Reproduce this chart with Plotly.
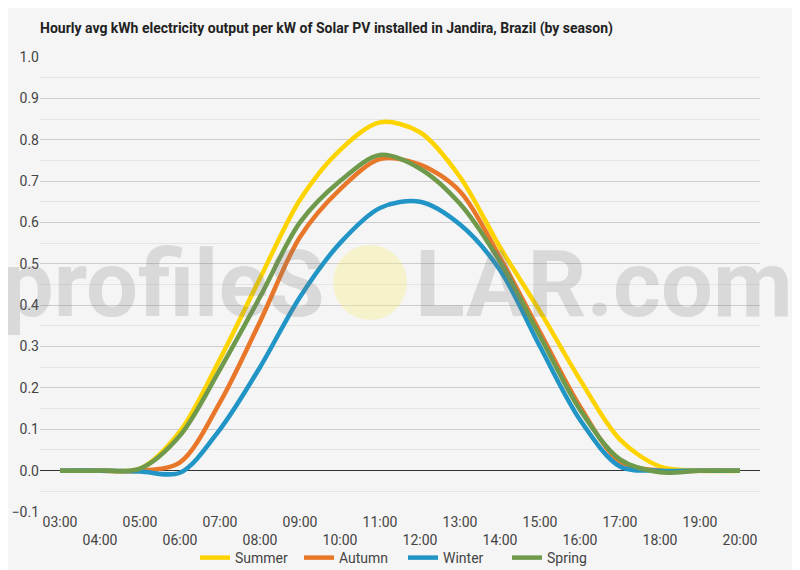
import plotly.graph_objects as go

hours = ["03:00", "04:00", "05:00", "06:00", "07:00", "08:00", "09:00", "10:00", "11:00",
         "12:00", "13:00", "14:00", "15:00", "16:00", "17:00", "18:00", "19:00", "20:00"]

summer = [0, 0, 0.005, 0.095, 0.27, 0.465, 0.655, 0.775, 0.842, 0.818, 0.71, 0.54,
          0.385, 0.22, 0.075, 0.01, 0, 0]
autumn = [0, 0, 0, 0.02, 0.165, 0.36, 0.565, 0.68, 0.753, 0.74, 0.675, 0.515,
          0.335, 0.155, 0.022, 0, 0, 0]
winter = [0, 0, -0.002, -0.005, 0.10, 0.25, 0.42, 0.55, 0.635, 0.65, 0.595, 0.485,
          0.30, 0.123, 0.01, 0, 0, 0]
spring = [0, 0, 0.005, 0.085, 0.245, 0.42, 0.60, 0.70, 0.763, 0.73, 0.645, 0.505,
          0.325, 0.147, 0.027, -0.004, 0, 0]

seasons = ["Summer", "Autumn", "Winter", "Spring"]
colors = ["#fdd400", "#e8772a", "#2195c6", "#6f9a4c"]

# the page puts the figure 8px in from the corner, so size/offset for that
OFF = 8
W, H = 800 - OFF, 570 - OFF
L, R, T, B = 40 - OFF, 40, 57 - OFF, 58


def px_x(x):
    # page pixel -> paper coordinate
    return (x - OFF - L) / (W - L - R)


def px_y(y):
    return (H - B - (y - OFF)) / (H - T - B)


fig = go.Figure()
for name, vals, col in zip(seasons, [summer, autumn, winter, spring], colors):
    fig.add_trace(go.Scatter(x=hours, y=vals, name=name, mode="lines",
                             line=dict(color=col, width=4.5, shape="spline", smoothing=0.9)))

# alternate tick labels onto two rows
ticktext = [h if i % 2 == 0 else "<br>" + h for i, h in enumerate(hours)]

fig.update_layout(
    width=W, height=H,
    margin=dict(l=L, r=R, t=T, b=B, autoexpand=False),
    paper_bgcolor="#f5f5f5", plot_bgcolor="#f5f5f5",
    font=dict(family="Roboto", size=14, color="#444"),
    title=dict(text="<b>Hourly avg kWh electricity output per kW of Solar PV installed in Jandira, Brazil (by season)</b>",
               x=(40 - OFF) / W, xanchor="left", xref="container",
               y=1 - (28 - OFF) / H, yanchor="middle", yref="container",
               font=dict(family="Roboto", size=14, color="#222")),
    showlegend=True,
    legend=dict(orientation="h", x=px_x(403), xanchor="center", y=px_y(558), yanchor="middle",
                font=dict(size=14, color="#444"), bgcolor="rgba(0,0,0,0)",
                itemwidth=30, tracegroupgap=0, entrywidth=59, entrywidthmode="pixels"),
)

fig.update_xaxes(type="category", range=[-0.5, len(hours) - 0.5], automargin=False,
                 tickvals=hours, ticktext=ticktext, showgrid=False, zeroline=False,
                 showline=False, ticks="", tickfont=dict(size=14, color="#444"))
fig.update_yaxes(range=[-0.1, 1.0], dtick=0.1, tickformat=".1f", automargin=False,
                 showgrid=True, gridcolor="#cccccc", gridwidth=1,
                 minor=dict(dtick=0.05, showgrid=True, gridcolor="#e4e4e4"),
                 zeroline=True, zerolinecolor="#333", zerolinewidth=1,
                 ticks="", tickfont=dict(size=14, color="#444"))

# profileSOLAR watermark
fig.add_shape(type="circle", xref="paper", yref="paper", layer="above", line_width=0,
              x0=px_x(333), x1=px_x(407), y0=px_y(320), y1=px_y(245),
              fillcolor="rgba(250,238,130,0.35)")
wm_font = dict(family="Roboto", size=92, weight="bold", color="rgba(120,120,120,0.22)")
fig.add_annotation(text="profileS", xref="paper", yref="paper", x=px_x(327), y=px_y(284),
                   xanchor="right", yanchor="middle", showarrow=False, font=wm_font)
fig.add_annotation(text="LAR.com", xref="paper", yref="paper", x=px_x(413), y=px_y(284),
                   xanchor="left", yanchor="middle", showarrow=False, font=wm_font)

fig.write_html("out.html")
